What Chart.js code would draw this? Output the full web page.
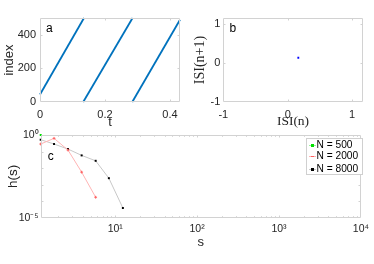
<!DOCTYPE html>
<html><head><meta charset="utf-8">
<script src="https://cdn.jsdelivr.net/npm/chart.js@4/dist/chart.umd.min.js"></script>
<style>
html,body{margin:0;padding:0;background:#fff;}
#fig{position:relative;width:374px;height:264px;overflow:hidden;background:#fff;font-family:'Liberation Sans',Arial,sans-serif;}
canvas{position:absolute;}
.lbl{position:absolute;font-size:12px;line-height:12px;color:#000;}
#legend{position:absolute;left:306px;top:138px;width:55px;height:35px;border:1px solid #d0d0d0;background:#fff;font-size:10.2px;color:#000;}
.row{position:absolute;left:0;width:55px;height:12px;line-height:12px;}
.row span{position:absolute;left:9.5px;top:0;white-space:nowrap;}
.samp{position:absolute;left:1.5px;width:7px;height:1px;top:6px;}
.mk{position:absolute;left:3.5px;width:3px;height:3px;top:5px;}
</style></head><body>
<div id="fig">
<canvas id="ca" width="190" height="130" style="left:0;top:0"></canvas>
<canvas id="cb" width="184" height="130" style="left:190px;top:0"></canvas>
<canvas id="cc" width="374" height="144" style="left:0;top:120px"></canvas>
<div class="lbl" style="left:46px;top:22.3px">a</div>
<div class="lbl" style="left:229.5px;top:22px">b</div>
<div class="lbl" style="left:47.8px;top:149.8px">c</div>
<div id="legend"></div>
</div>
<script>
// ---- data ----
// panel a: raster "index" vs time t (three sweeps)
const waveStartT   = [0, 0.133, 0.284];
const waveStartIdx = [45, 0, 0];
const waveEndT     = [0.1354, 0.285, 0.431];
const waveEndIdx   = [500, 500, 490];
const tTicks = [0, 0.2, 0.4];
const indexTicks = [0, 200, 400];
// panel b: return map
const isiN  = [0.165];
const isiN1 = [0.13];
const isiTicks = [-1, 0, 1];
// panel c: avalanche size distribution
const sValues = [1.23, 1.79, 2.65, 3.89, 5.77, 8.36, 12.4];
const h500  = [1.0];
const h2000 = [0.286, 0.63, 0.124, 0.0058, 1.78e-4];
const h8000 = [0.52, 0.286, 0.142, 0.059, 0.0279, 0.0025, 4.0e-5];
const seriesLabels = ['N = 500', 'N = 2000', 'N = 8000'];
const sTicks = [10, 100, 1000, 10000];
const hTicks = [1e-5, 1];

// ---- helpers ----
const SANS = "'Liberation Sans', Arial, sans-serif";
const SERIF = "'Liberation Serif', 'Times New Roman', serif";
const TXT = '#262626';
const AX = '#d2d2d2';
const SUP = {'0':'⁰','1':'¹','2':'²','3':'³','4':'⁴','5':'⁵','6':'⁶','7':'⁷','8':'⁸','9':'⁹','-':'⁻'};
function pow10Label(v){
  const e = String(Math.round(Math.log10(v)));
  return '10' + e.split('').map(c => SUP[c]).join('');
}
const frame = {
  id: 'frame',
  afterDraw(chart, args, o){
    if (!o || !o.color) return;
    const {ctx, chartArea: a, scales: {x, y}} = chart;
    const L = Math.round(a.left) + 0.5, R = Math.round(a.right) - 0.5;
    const T = Math.round(a.top) + 0.5, B = Math.round(a.bottom) - 0.5;
    ctx.save();
    ctx.strokeStyle = o.color; ctx.lineWidth = 1;
    ctx.beginPath();
    const tk = (list, len, isX) => (list || []).forEach(v => {
      if (isX){
        const p = Math.round(x.getPixelForValue(v)) + 0.5;
        if (p < L + 1 || p > R - 1) return;
        ctx.moveTo(p, B); ctx.lineTo(p, B - len);
        ctx.moveTo(p, T); ctx.lineTo(p, T + len);
      } else {
        const p = Math.round(y.getPixelForValue(v)) + 0.5;
        if (p < T + 1 || p > B - 1) return;
        ctx.moveTo(L, p); ctx.lineTo(L + len, p);
        ctx.moveTo(R, p); ctx.lineTo(R - len, p);
      }
    });
    tk(o.xMajor, o.len, true); tk(o.yMajor, o.len, false);
    tk(o.xMinor, o.minorLen, true); tk(o.yMinor, o.minorLen, false);
    ctx.moveTo(L, T); ctx.lineTo(R, T); ctx.lineTo(R, B); ctx.lineTo(L, B); ctx.closePath();
    ctx.stroke();
    ctx.restore();
  }
};
Chart.register(frame);
Chart.defaults.font.family = SANS;
Chart.defaults.color = TXT;

function fixTicks(list){ return s => { s.ticks = list.map(v => ({value: v})); }; }
function baseOpts(){
  return {responsive: false, animation: false, devicePixelRatio: 1, events: []};
}

// ---- panel a ----
const aData = waveStartT.map((t0, i) => ({
  data: [{x: t0, y: waveStartIdx[i]}, {x: waveEndT[i], y: waveEndIdx[i]}],
  showLine: true, borderColor: '#0072BD', borderWidth: 1.8, pointRadius: 0, clip: false
}));
new Chart(document.getElementById('ca'), {
  type: 'scatter',
  data: {datasets: aData},
  options: Object.assign(baseOpts(), {
    layout: {autoPadding: false, padding: {left: 0, top: 18, right: 10, bottom: 0}},
    scales: {
      x: {type: 'linear', min: 0, max: 0.431,
        afterBuildTicks: fixTicks(tTicks), afterFit: s => { s.height = 28; },
        grid: {display: false, drawTicks: false}, border: {display: false},
        ticks: {font: {size: 11}, padding: 6, maxRotation: 0, callback: v => String(v)},
        title: {display: true, text: 't', font: {size: 13}, padding: {top: 0, bottom: 0}}},
      y: {type: 'linear', min: 0, max: 500,
        afterBuildTicks: fixTicks(indexTicks), afterFit: s => { s.width = 40; },
        grid: {display: false, drawTicks: false}, border: {display: false},
        ticks: {font: {size: 11}, padding: 4},
        title: {display: true, text: 'index', font: {size: 13}, padding: {top: 2, bottom: 0}}}
    },
    plugins: {legend: {display: false}, tooltip: {enabled: false},
      frame: {color: AX, len: 2, minorLen: 1, xMajor: tTicks, yMajor: indexTicks}}
  })
});

// ---- panel b ----
new Chart(document.getElementById('cb'), {
  type: 'scatter',
  data: {datasets: [{data: isiN.map((v, i) => ({x: v, y: isiN1[i]})),
    pointStyle: 'rect', pointRadius: 1.3, backgroundColor: '#0000ff', borderWidth: 0}]},
  options: Object.assign(baseOpts(), {
    layout: {autoPadding: false, padding: {left: 0, top: 18, right: 11.3, bottom: 0}},
    scales: {
      x: {type: 'linear', min: -1, max: 1.165,
        afterBuildTicks: fixTicks(isiTicks), afterFit: s => { s.height = 28; },
        grid: {display: false, drawTicks: false}, border: {display: false},
        ticks: {font: {size: 11}, padding: 6, maxRotation: 0},
        title: {display: true, text: 'ISI(n)', font: {size: 13.5, family: SERIF}, padding: {top: 0, bottom: 0}}},
      y: {type: 'linear', min: -1, max: 1.147,
        afterBuildTicks: fixTicks(isiTicks), afterFit: s => { s.width = 33.3; },
        grid: {display: false, drawTicks: false}, border: {display: false},
        ticks: {font: {size: 11}, padding: 3},
        title: {display: true, text: 'ISI(n+1)', font: {size: 14, family: SERIF}, padding: {top: 1.5, bottom: 0}}}
    },
    plugins: {legend: {display: false}, tooltip: {enabled: false},
      frame: {color: AX, len: 2, minorLen: 1, xMajor: isiTicks, yMajor: isiTicks}}
  })
});

// ---- panel c ----
const xMinor = [];
for (let k = 0; k < 4; k++) for (let m = 2; m <= 9; m++) xMinor.push(m * Math.pow(10, k));
const yMajorC = [1e-4, 1e-3, 1e-2, 1e-1];
const cColors = [
  {line: '#9df09d', pt: '#00e000', style: 'rect'},
  {line: '#ffb4b4', pt: '#ff6060', style: 'cross'},
  {line: '#c8c8c8', pt: '#000000', style: 'rect'}
];
const cSeries = [h500, h2000, h8000];
new Chart(document.getElementById('cc'), {
  type: 'scatter',
  data: {datasets: cSeries.map((arr, i) => ({
    label: seriesLabels[i],
    data: arr.map((v, j) => ({x: sValues[j], y: v})),
    showLine: true, borderColor: cColors[i].line, borderWidth: 1,
    pointStyle: cColors[i].style, pointRadius: 1.4,
    pointBackgroundColor: cColors[i].pt, pointBorderColor: cColors[i].pt, pointBorderWidth: i === 1 ? 1 : 0,
    clip: false
  }))},
  options: Object.assign(baseOpts(), {
    layout: {autoPadding: false, padding: {left: 0, top: 15, right: 11.3, bottom: 0}},
    scales: {
      x: {type: 'logarithmic', min: 1.23, max: 10000,
        afterBuildTicks: fixTicks(sTicks), afterFit: s => { s.height = 46; },
        grid: {display: false, drawTicks: false}, border: {display: false},
        ticks: {font: {size: 10.5}, padding: 5, maxRotation: 0, autoSkip: false, callback: v => pow10Label(v)},
        title: {display: true, text: 's', font: {size: 13}, padding: {top: 0, bottom: 13.6}}},
      y: {type: 'logarithmic', min: 1e-5, max: 1,
        afterBuildTicks: fixTicks(hTicks), afterFit: s => { s.width = 40.7; },
        grid: {display: false, drawTicks: false}, border: {display: false},
        ticks: {font: {size: 10.5}, padding: 2, autoSkip: false, callback: v => pow10Label(v)},
        title: {display: true, text: 'h(s)', font: {size: 13.5}, padding: {top: 5, bottom: 0}}}
    },
    plugins: {legend: {display: false}, tooltip: {enabled: false},
      frame: {color: AX, len: 2, minorLen: 1.3, xMajor: sTicks, xMinor: xMinor, yMajor: yMajorC}}
  })
});

// ---- legend for panel c (from series labels) ----
const lg = document.getElementById('legend');
const rowTops = [0.1, 11.4, 23.8];
seriesLabels.forEach((lab, i) => {
  const r = document.createElement('div');
  r.className = 'row'; r.style.top = rowTops[i] + 'px';
  const sp = document.createElement('div'); sp.className = 'samp'; sp.style.background = cColors[i].line;
  const mk = document.createElement('div'); mk.className = 'mk'; mk.style.background = cColors[i].pt;
  if (i === 1) { mk.style.height = '1px'; mk.style.top = '6px'; }
  const t = document.createElement('span'); t.textContent = lab;
  r.appendChild(sp); r.appendChild(mk); r.appendChild(t);
  lg.appendChild(r);
});
</script>
</body></html>
